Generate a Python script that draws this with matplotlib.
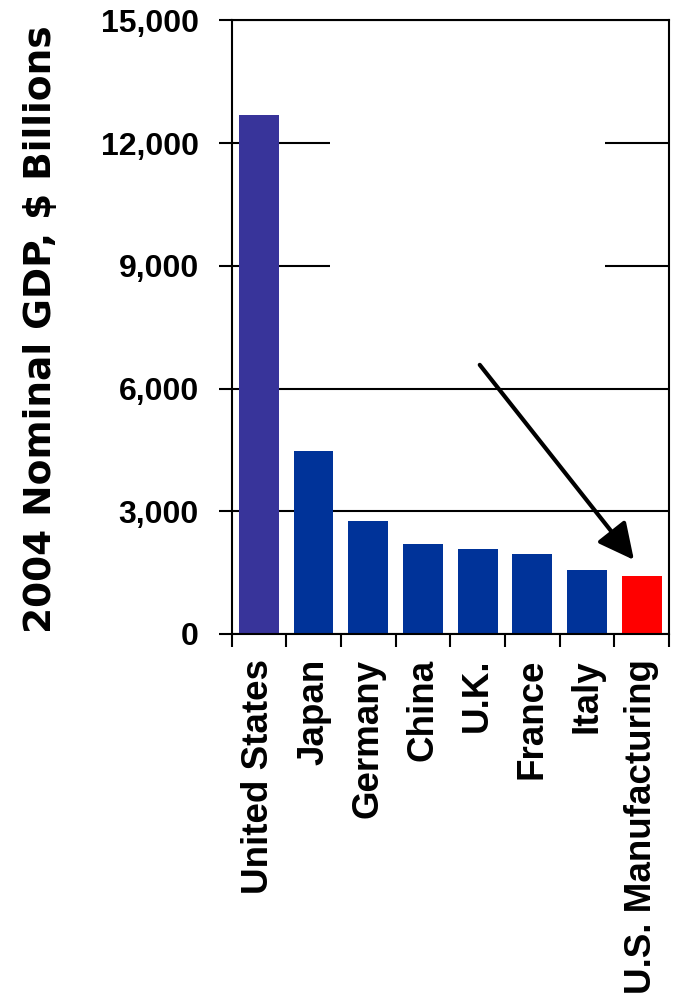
#!/usr/bin/env python3
"""2004 nominal GDP by country, compared with U.S. manufacturing output."""

import matplotlib

matplotlib.use("Agg")
import matplotlib.pyplot as plt
from matplotlib.patches import Rectangle
from matplotlib.ticker import FixedLocator, FuncFormatter

categories = ["United States", "Japan", "Germany", "China", "U.K.", "France",
              "Italy", "U.S. Manufacturing"]
gdp_billions = [12690, 4470, 2760, 2200, 2080, 1960, 1565, 1420]
bar_colors = ["#38349a", "#003399", "#003399", "#003399", "#003399",
              "#003399", "#003399", "#ff0000"]
y_ticks = [0, 3000, 6000, 9000, 12000, 15000]

plt.rcParams["font.family"] = ["Liberation Sans", "DejaVu Sans"]
plt.rcParams["font.weight"] = "bold"

# the slide's y-axis title is stretched wide, DejaVu is the closest wide face
WIDE_FONT = ["DejaVu Sans"]


def main() -> int:
    fig = plt.figure(figsize=(6.75, 9.94), dpi=100)
    ax = fig.add_axes([0.343, 0.3622, 0.648, 0.6172])

    x = list(range(len(categories)))
    ax.bar(x, gdp_billions, width=0.73, color=bar_colors, zorder=3)

    ax.set_xlim(-0.5, len(categories) - 0.5)
    ax.set_ylim(0, 15000)

    # gridlines under the bars, partly hidden by a blank box like the original slide
    ax.set_yticks(y_ticks)
    ax.yaxis.grid(True, color="black", linewidth=1.5, zorder=1)
    ax.set_axisbelow(True)
    ax.add_patch(Rectangle((1.3, 7500), 5.03, 6000, facecolor="white",
                           edgecolor="none", zorder=2))

    ax.yaxis.set_major_formatter(FuncFormatter(lambda v, _: f"{v:,.0f}"))
    ax.tick_params(axis="y", direction="out", length=9.5, width=1.5,
                   labelsize=23, pad=14)

    ax.set_xticks(x)
    ax.set_xticklabels(categories, rotation=90, fontsize=26.5, fontweight="bold")
    ax.tick_params(axis="x", which="major", length=0, pad=18)
    ax.xaxis.set_minor_locator(FixedLocator([i + 0.5 for i in range(-1, len(categories))]))
    ax.tick_params(axis="x", which="minor", direction="out", length=9.5, width=1.5)

    for spine in ax.spines.values():
        spine.set_linewidth(1.5)
        spine.set_zorder(4)

    # arrow pointing at the manufacturing bar
    ax.annotate("", xy=(6.86, 1810), xytext=(4.04, 6580),
                arrowprops=dict(arrowstyle="-|>,head_length=1.1,head_width=0.55",
                                color="black", linewidth=3, mutation_scale=20,
                                shrinkA=0, shrinkB=0),
                zorder=5)

    fig.text(41 / 675, 1 - 329 / 994, "2004 Nominal GDP, $ Billions",
             rotation=90, ha="center", va="center", fontsize=27,
             fontweight="bold", family=WIDE_FONT)

    fig.savefig("out.png", dpi=100)
    return 0


if __name__ == "__main__":
    raise SystemExit(main())
